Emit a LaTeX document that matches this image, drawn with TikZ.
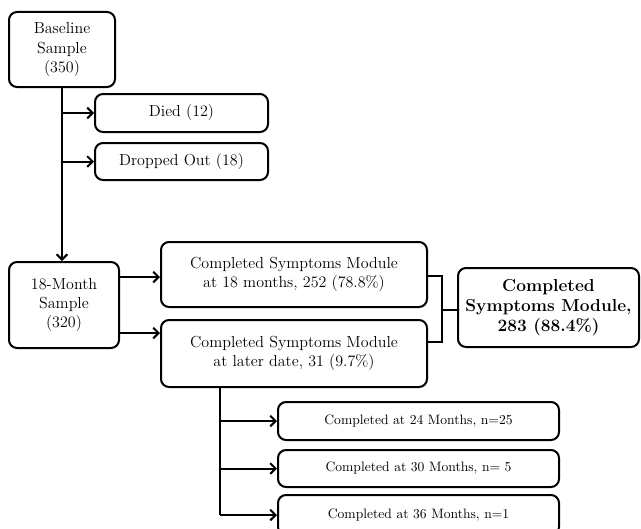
\documentclass[tikz,border=0pt]{standalone}
\usepackage{tikz}
\usetikzlibrary{arrows.meta}

\begin{document}
\begin{tikzpicture}[
  x=0.75pt, y=-0.75pt,
  >={Straight Barb[length=4pt,width=8pt]},
  font=\fontsize{12}{14.5}\selectfont,
  box/.style={
    draw,
    line width=1.5pt,
    rounded corners=6pt,
    align=center,
    inner sep=2pt,
    fill=white
  },
  smallbox/.style={box, font=\fontsize{10.2}{12}\selectfont},
  link/.style={line width=1.5pt},
  arrow/.style={->, line width=1.5pt}
]
  \useasboundingbox (0,0) rectangle (641,528);

  \node[box, minimum width=106*0.75pt, minimum height=75*0.75pt] (base) at (62,49.5) {Baseline\\Sample\\(350)};
  \node[box, minimum width=173*0.75pt, minimum height=38*0.75pt] (died) at (181.5,113) {Died (12)};
  \node[box, minimum width=173*0.75pt, minimum height=37*0.75pt] (drop) at (181.5,161.5) {Dropped Out (18)};
  \node[box, minimum width=110*0.75pt, minimum height=86*0.75pt] (month) at (64,305) {18-Month\\Sample\\(320)};
  \node[box, minimum width=266*0.75pt, minimum height=65*0.75pt] (comp18) at (294,274.5) {Completed Symptoms Module\\at 18 months, 252 (78.8\%)};
  \node[box, minimum width=266*0.75pt, minimum height=67*0.75pt] (later) at (294,353.5) {Completed Symptoms Module\\at later date, 31 (9.7\%)};
  \node[box, font=\fontsize{13}{15}\selectfont\bfseries, minimum width=181*0.75pt, minimum height=79*0.75pt] (total) at (548.5,307.5) {Completed\\Symptoms Module,\\283 (88.4\%)};
  \node[smallbox, minimum width=281*0.75pt, minimum height=38*0.75pt] (c24) at (418.5,421) {Completed at 24 Months, n=25};
  \node[smallbox, minimum width=281*0.75pt, minimum height=37*0.75pt] (c30) at (418.5,468.5) {Completed at 30 Months, n= 5};
  \node[smallbox, minimum width=281*0.75pt, minimum height=40*0.75pt] (c36) at (418.5,515) {Completed at 36 Months, n=1};

  % baseline to 18-month sample
  \draw[arrow] (base.south) -- (base.south |- month.north);
  \draw[arrow] (base.south |- died) -- (died.west);
  \draw[arrow] (base.south |- drop) -- (drop.west);

  % 18-month sample to modules
  \draw[arrow] ([yshift=21pt]month.east) -- ([yshift=21pt]month.east -| comp18.west);
  \draw[arrow] ([yshift=-21pt]month.east) -- ([yshift=-21pt]month.east -| later.west);

  % bracket to total
  \coordinate (jn) at (442,310);
  \draw[link] ([yshift=-1pt]comp18.east) -| (jn) |- ([yshift=8.6pt]later.east);
  \draw[link] (jn) -- (jn -| total.west);

  % later date breakdown
  \coordinate (tr) at (220,387);
  \draw[link] (tr) -- (tr |- c36);
  \foreach \n in {c24,c30,c36}
    \draw[arrow] (tr |- \n) -- (\n.west);
\end{tikzpicture}
\end{document}
